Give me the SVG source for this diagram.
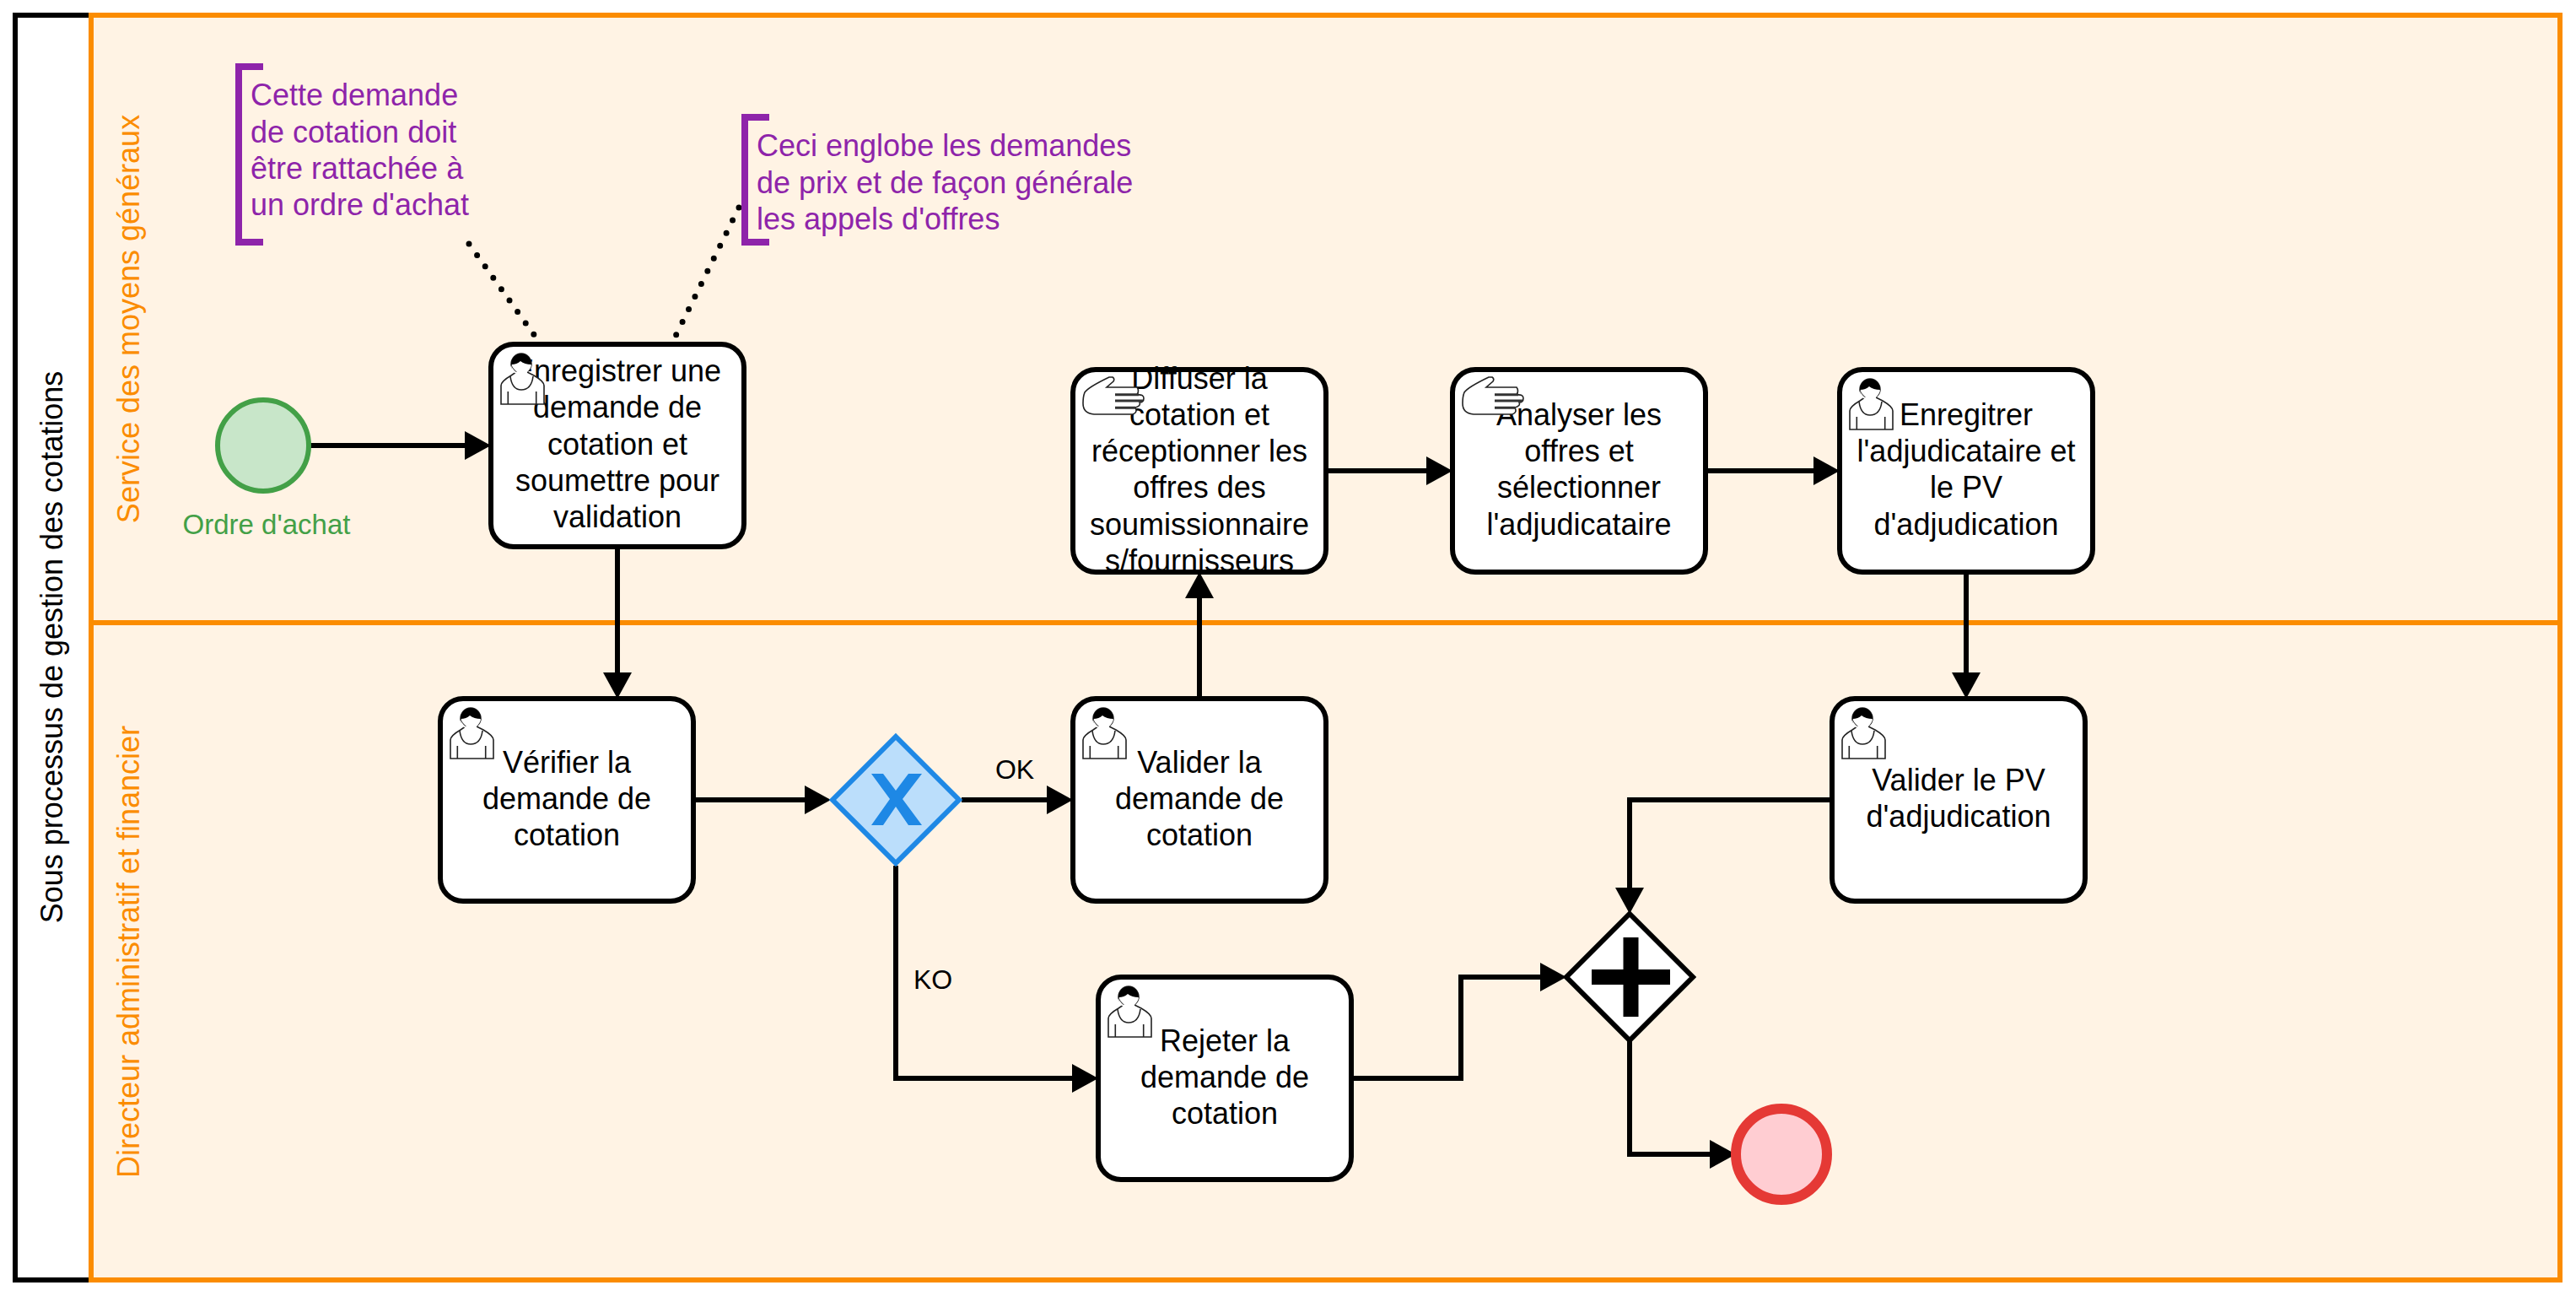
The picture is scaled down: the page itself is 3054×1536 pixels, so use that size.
<svg xmlns="http://www.w3.org/2000/svg" xmlns:xlink="http://www.w3.org/1999/xlink" width="3054" height="1536" viewBox="0 0 3054 1536">
<style>
text{font-family:"Liberation Sans",Arial,sans-serif;font-size:36px}
.t{text-anchor:middle;fill:#000}
.lane{fill:#FFF3E4;stroke:#FB8C00;stroke-width:6}
.lt{fill:#FB8C00;text-anchor:middle}
.task{fill:#fff;stroke:#000;stroke-width:6}
.c{fill:none;stroke:#000;stroke-width:6;marker-end:url(#a)}
.dot{fill:none;stroke:#000;stroke-width:7;stroke-linecap:round}
.br{fill:none;stroke:#8E24AA;stroke-width:8}
.n{fill:#8E24AA}
.lab{font-size:32px;fill:#000;text-anchor:middle}
</style>
<defs>
<marker id="a" markerUnits="userSpaceOnUse" markerWidth="32" markerHeight="34" refX="21" refY="17" orient="auto"><path d="M0,0L31,17L0,34Z" fill="#000"/></marker>
<g id="user">
<path d="M12,71V49Q12,44 24,37L30,33Q24,28 24,24A12,13 0 0 1 48,24Q48,28 43,33L51,37Q63,44 63,49V71Z" fill="#fff" stroke="#222" stroke-width="1.6"/>
<path d="M23,38Q25,54 36,54Q48,54 50,38" fill="#fff" stroke="#222" stroke-width="1.6"/>
<path d="M30,33Q24,28 24,24Q24,36 36,36Q44,36 43,33Q48,28 48,24Z" fill="#fff" stroke="none"/>
<path d="M24,24A12,13 0 0 1 48,24Q40,24 35,20Q31,24 24,24Z" fill="#000"/>
<path d="M20.300,56V71M53.700,56V71" fill="none" stroke="#222" stroke-width="1.600"/>
</g>
<g id="hand">
<path d="M47,9Q50,11 48,14L40,21H76Q79,25 76,30Q84,29 84,34Q84,39 79,39Q81,43 74,45Q77,51 71,53H25Q12,52 12,40Q12,32 14,27Q18,21 43,9Z" fill="#fff" stroke="#222" stroke-width="1.600"/>
<path d="M50,29.700H78M50,37H83M50,45.300H74" fill="none" stroke="#333" stroke-width="3"/>
</g>
</defs>

<g id="lanes">
<rect x="18" y="18" width="90" height="1499" fill="#fff" stroke="#000" stroke-width="6"/>
<rect class="lane" x="108" y="18" width="2927" height="720"/>
<rect class="lane" x="108" y="738" width="2927" height="779"/>
<text class="t" transform="translate(74,767) rotate(-90)">Sous processus de gestion des cotations</text>
<text class="lt" transform="translate(164.500,378) rotate(-90)">Service des moyens généraux</text>
<text class="lt" transform="translate(164.500,1128) rotate(-90)">Directeur administratif et financier</text>
</g>

<g id="connectors">
<path class="c" d="M366,528H572"/>
<path class="c" d="M732,648V818"/>
<path class="c" d="M1572,558H1712"/>
<path class="c" d="M2022,558H2171"/>
<path class="c" d="M2331,678V818"/>
<path class="c" d="M1422,828V688"/>
<path class="c" d="M822,948H975"/>
<path class="c" d="M1140,948H1262"/>
<path class="c" d="M1062,1026V1278H1292"/>
<path class="c" d="M1602,1278H1732V1158H1847"/>
<path class="c" d="M2172,948H1932V1073"/>
<path class="c" d="M1932,1234V1368H2048"/>
<path class="dot" stroke-dasharray="0 16.500" d="M556,289L634,398"/>
<path class="dot" stroke-dasharray="0 16.800" d="M876,246L801,398"/>
</g>

<g id="start">
<circle cx="312" cy="528" r="54" fill="#C8E6C9" stroke="#43A047" stroke-width="6"/>
<text x="316" y="633" style="font-size:33px" fill="#43A047" text-anchor="middle">Ordre d'achat</text>
</g>

<g id="note1">
<path class="br" d="M312,79H283V287H312"/>
<text class="n" x="297" y="125">Cette demande</text>
<text class="n" x="297" y="168.500">de cotation doit</text>
<text class="n" x="297" y="211.500">être rattachée à</text>
<text class="n" x="297" y="255">un ordre d'achat</text>
</g>
<g id="note2">
<path class="br" d="M912,139H883V287H912"/>
<text class="n" x="897" y="185">Ceci englobe les demandes</text>
<text class="n" x="897" y="228.500">de prix et de façon générale</text>
<text class="n" x="897" y="272">les appels d'offres</text>
</g>

<g id="task-enregistrer">
<rect class="task" x="582" y="408" width="300" height="240" rx="27"/>
<text class="t" x="732" y="452">Enregistrer une</text>
<text class="t" x="732" y="495">demande de</text>
<text class="t" x="732" y="539">cotation et</text>
<text class="t" x="732" y="582">soumettre pour</text>
<text class="t" x="732" y="625">validation</text>
<use xlink:href="#user" href="#user" x="582" y="408"/>
</g>
<g id="task-diffuser">
<rect class="task" x="1272" y="438" width="300" height="240" rx="27"/>
<text class="t" x="1422" y="461">Diffuser la</text>
<text class="t" x="1422" y="504">cotation et</text>
<text class="t" x="1422" y="547">réceptionner les</text>
<text class="t" x="1422" y="590">offres des</text>
<text class="t" x="1422" y="634">soumissionnaire</text>
<text class="t" x="1422" y="677">s/fournisseurs</text>
<use xlink:href="#hand" href="#hand" x="1272" y="438"/>
</g>
<g id="task-analyser">
<rect class="task" x="1722" y="438" width="300" height="240" rx="27"/>
<text class="t" x="1872" y="504">Analyser les</text>
<text class="t" x="1872" y="547">offres et</text>
<text class="t" x="1872" y="590">sélectionner</text>
<text class="t" x="1872" y="634">l'adjudicataire</text>
<use xlink:href="#hand" href="#hand" x="1722" y="438"/>
</g>
<g id="task-enregitrer">
<rect class="task" x="2181" y="438" width="300" height="240" rx="27"/>
<text class="t" x="2331" y="504">Enregitrer</text>
<text class="t" x="2331" y="547">l'adjudicataire et</text>
<text class="t" x="2331" y="590">le PV</text>
<text class="t" x="2331" y="634">d'adjudication</text>
<use xlink:href="#user" href="#user" x="2181" y="438"/>
</g>
<g id="task-verifier">
<rect class="task" x="522" y="828" width="300" height="240" rx="27"/>
<text class="t" x="672" y="916">Vérifier la</text>
<text class="t" x="672" y="959">demande de</text>
<text class="t" x="672" y="1002">cotation</text>
<use xlink:href="#user" href="#user" x="522" y="828"/>
</g>
<g id="task-valider">
<rect class="task" x="1272" y="828" width="300" height="240" rx="27"/>
<text class="t" x="1422" y="916">Valider la</text>
<text class="t" x="1422" y="959">demande de</text>
<text class="t" x="1422" y="1002">cotation</text>
<use xlink:href="#user" href="#user" x="1272" y="828"/>
</g>
<g id="task-valider-pv">
<rect class="task" x="2172" y="828" width="300" height="240" rx="27"/>
<text class="t" x="2322" y="937">Valider le PV</text>
<text class="t" x="2322" y="980">d'adjudication</text>
<use xlink:href="#user" href="#user" x="2172" y="828"/>
</g>
<g id="task-rejeter">
<rect class="task" x="1302" y="1158" width="300" height="240" rx="27"/>
<text class="t" x="1452" y="1246">Rejeter la</text>
<text class="t" x="1452" y="1289">demande de</text>
<text class="t" x="1452" y="1332">cotation</text>
<use xlink:href="#user" href="#user" x="1302" y="1158"/>
</g>

<g id="gateway-x">
<path d="M1062,873L1137,948L1062,1023L987,948Z" fill="#BBDEFB" stroke="#1E88E5" stroke-width="6"/>
<path d="M1033,917H1047L1062,937L1077,917H1093L1070,947L1093,978H1077L1062,956L1047,978H1033L1055,947Z" fill="#1E88E5"/>
</g>
<g id="gateway-plus">
<path d="M1932,1083L2007,1158L1932,1233L1857,1158Z" fill="#fff" stroke="#000" stroke-width="6"/>
<path d="M1924.500,1111H1942.500V1149H1980V1167H1942.500V1205H1924.500V1167H1887V1149H1924.500Z" fill="#000"/>
</g>
<g id="end">
<circle cx="2112" cy="1368" r="54" fill="#FFCDD2" stroke="#E53935" stroke-width="12"/>
</g>
<text class="lab" x="1203" y="923">OK</text>
<text class="lab" x="1106" y="1172">KO</text>
</svg>
